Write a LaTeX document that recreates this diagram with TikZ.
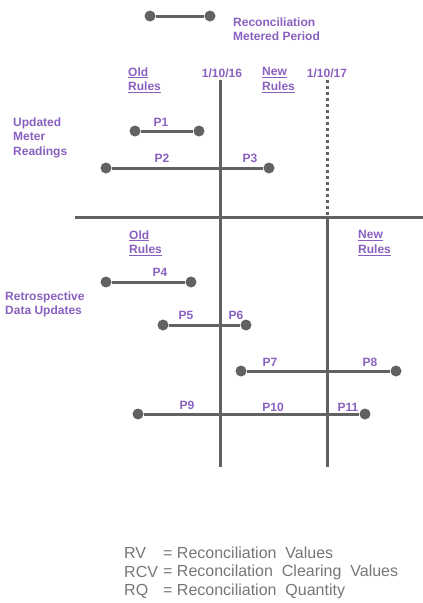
\documentclass[tikz,border=0pt]{standalone}
\usepackage{fontspec}
\setmainfont{Liberation Sans}
\usepackage{tikz}
\usetikzlibrary{positioning}
\definecolor{rulepurple}{RGB}{137,96,191}
\definecolor{linegray}{RGB}{98,98,98}
\definecolor{keygray}{RGB}{118,118,118}

\begin{document}
\begin{tikzpicture}[x=1pt,y=-1pt]
  \tikzstyle{dot}=[circle,fill=linegray,inner sep=0pt,minimum size=11pt]
  \tikzstyle{period}=[draw=linegray,line width=3pt]
  \tikzstyle{lbl}=[text=rulepurple,font=\fontsize{12}{14.5}\selectfont\bfseries,inner sep=0pt,align=left]
  \tikzstyle{key}=[text=keygray,font=\fontsize{16}{19}\selectfont,inner sep=0pt,anchor=west]
  \useasboundingbox (0,0) rectangle (423,603);

  % legend
  \node[dot] (keya) at (150,16) {};
  \node[dot] (keyb) at (210,16) {};
  \draw[period] (keya) -- (keyb);
  \node[lbl,anchor=west] (keytxt) at (233,29) {Reconciliation\\Metered Period};

  % rule changes
  \coordinate (d16top) at (220,80);
  \coordinate (d16bot) at (220,467);
  \coordinate (d17top) at (327,80);
  \coordinate (d17mid) at (327,217);
  \coordinate (d17bot) at (327,467);
  \coordinate (splitl) at (75,217);
  \coordinate (splitr) at (423,217);
  \draw[period] (d16top) -- (d16bot);
  \draw[period,dash pattern=on 3pt off 3pt] (d17top) -- (d17mid);
  \draw[period] (d17mid) -- (d17bot);
  \draw[period] (splitl) -- (splitr);

  \node[lbl] (date16) at (222,73) {1/10/16};
  \node[lbl] (date17) at (327,73) {1/10/17};
  \node[lbl,anchor=west] (oldtop) at (128,80) {\underline{Old}\\\underline{Rules}};
  \node[lbl,anchor=west] (newtop) at (262,80) {\underline{New}\\\underline{Rules}};
  \node[lbl,anchor=west] (oldbot) at (129,243) {\underline{Old}\\\underline{Rules}};
  \node[lbl,anchor=west] (newbot) at (358,243) {\underline{New}\\\underline{Rules}};

  \node[lbl,anchor=west] (meter) at (13,137.5) {Updated\\Meter\\Readings};
  \node[lbl,anchor=west] (retro) at (5,304.5) {Retrospective\\Data Updates};

  % periods
  \node[dot] (p1a) at (135,131) {};
  \node[dot] (p1b) at (199,131) {};
  \node[dot] (p2a) at (106,168) {};
  \node[dot] (p2b) at (269,168) {};
  \node[dot] (p4a) at (106,282) {};
  \node[dot] (p4b) at (191,282) {};
  \node[dot] (p5a) at (163,325) {};
  \node[dot] (p5b) at (246,325) {};
  \node[dot] (p7a) at (241,371) {};
  \node[dot] (p7b) at (396,371) {};
  \node[dot] (p9a) at (138,414) {};
  \node[dot] (p9b) at (365,414) {};
  \draw[period] (p1a) -- (p1b);
  \draw[period] (p2a) -- (p2b);
  \draw[period] (p4a) -- (p4b);
  \draw[period] (p5a) -- (p5b);
  \draw[period] (p7a) -- (p7b);
  \draw[period] (p9a) -- (p9b);

  \node[lbl] (lp1) at (161,122) {P1};
  \node[lbl] (lp2) at (162,158) {P2};
  \node[lbl] (lp3) at (250,158) {P3};
  \node[lbl] (lp4) at (160,272) {P4};
  \node[lbl] (lp5) at (186,315) {P5};
  \node[lbl] (lp6) at (236,315) {P6};
  \node[lbl] (lp7) at (270,362) {P7};
  \node[lbl] (lp8) at (370,362) {P8};
  \node[lbl] (lp9) at (187,405) {P9};
  \node[lbl] (lp10) at (273,407) {P10};
  \node[lbl] (lp11) at (348,407) {P11};

  % abbreviations
  \node[key] (rv) at (124,553) {RV};
  \node[key] (rvdef) at (163,553) {= Reconciliation\ \ Values};
  \node[key] (rcv) at (124,572) {RCV};
  \node[key] (rcvdef) at (163,572) {= Reconcilation\ \ Clearing\ \ Values};
  \node[key] (rq) at (124,591) {RQ};
  \node[key] (rqdef) at (163,591) {= Reconciliation\ \ Quantity};
\end{tikzpicture}
\end{document}
